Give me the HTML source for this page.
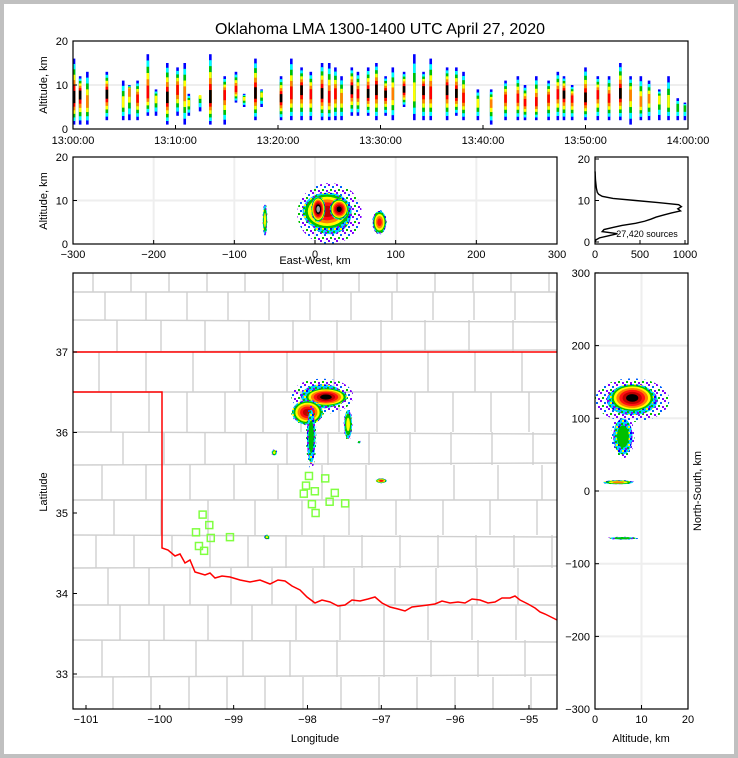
<!DOCTYPE html>
<html><head><meta charset="utf-8"><style>
body{margin:0;background:#c0c0c0;}
svg{display:block;font-family:"Liberation Sans","DejaVu Sans",sans-serif;}
</style></head><body>
<svg id="s" width="738" height="758" xmlns="http://www.w3.org/2000/svg">
<defs>
<pattern id="speck" width="8" height="8" patternUnits="userSpaceOnUse">
<rect x="0" y="0" width="2" height="2" fill="#8000ff"/>
<rect x="4" y="2" width="2" height="2" fill="#0060ff"/>
<rect x="2" y="5" width="2" height="2" fill="#00c000"/>
<rect x="6" y="6" width="2" height="2" fill="#8000ff"/>
</pattern>
<pattern id="speck2" width="6" height="6" patternUnits="userSpaceOnUse">
<rect x="0" y="0" width="6" height="6" fill="#00d0ff"/>
<rect x="0" y="0" width="2" height="2" fill="#0000ff"/>
<rect x="3" y="3" width="2" height="2" fill="#00c000"/>
<rect x="4" y="0" width="2" height="2" fill="#ffff00"/>
<rect x="1" y="4" width="2" height="2" fill="#8000ff"/>
</pattern>
</defs>
<rect x="0" y="0" width="738" height="758" fill="#c0c0c0"/>
<rect x="4" y="4" width="730" height="750" fill="#fff"/>
<text x="380" y="34" font-size="16" text-anchor="middle">Oklahoma LMA 1300-1400 UTC April 27, 2020</text>
<g id="g"></g>
</svg>
<script>
// ---- data ----
const colTimes=[0.1,0.7,1.4,3.3,4.9,5.5,6.3,7.3,8.1,9.2,10.2,10.9,11.3,12.4,13.4,14.8,15.9,16.7,17.8,18.4,20.3,21.3,22.3,23.2,24.3,25.0,25.6,26.2,27.2,27.8,28.8,29.6,30.5,31.2,32.3,33.3,34.2,34.9,36.5,37.4,38.1,39.5,40.8,42.2,43.4,44.1,45.2,46.4,47.3,47.9,48.7,50.0,51.2,52.3,53.4,54.4,55.4,56.2,57.2,58.1,59.0,59.7];
const colLow=[1,1,1,2,2,2,2,3,3,1,3,1,3,4,1,1,6,5,2,5,2,2,2,2,2,2,2,2,3,3,3,2,3,2,5,2,2,2,2,3,2,2,1,2,2,2,2,2,2,2,2,2,2,2,2,1,2,2,2,2,2,2];
const colHigh=[16,12,13,13,11,10,11,17,9,15,14,15,8,7,17,12,13,8,16,9,12,16,14,13,15,15,14,12,14,13,14,15,12,14,13,17,13,16,14,14,13,9,9,11,12,10,12,11,13,12,10,14,12,12,15,12,12,11,9,12,7,6];
const colCore=[7,8,6,8,6,9,7,8,7,7,9,8,6,8,7,8,9,7,8,8,7,8,9,8,8,7,8,7,9,8,8,9,8,8,9,8,9,8,9,8,7,6,6,7,7,6,6,7,8,8,7,7,8,7,8,8,6,7,7,6,5,5];
const colPeak=[6,6,4,6,3,4,5,5,3,6,5,4,3,3,6,5,5,3,6,3,6,5,6,5,6,5,5,4,6,5,6,6,6,4,6,3,6,5,6,6,5,3,4,5,5,5,5,5,5,6,5,6,5,5,6,4,4,4,3,3,2,2];

const ewCenter=[18,15,4,30,-62,80];
const ewRad=[40,32,9,12,3,9];
const ewAlt=[7,7.5,8,8,5.5,5];
const ewAltRad=[7,4.5,3,2.5,4,2.8];
const ewPeak=[1,6,8,7,3,5];

const histAlt=[0,0.5,1,1.5,2,2.5,3,3.5,4,4.5,5,5.5,6,6.5,7,7.5,8,8.5,9,9.5,10,10.5,11,11.5,12,13,14,15,16,17];
const histCount=[0,10,50,150,250,80,100,200,300,450,550,620,680,760,850,950,920,960,930,700,450,200,80,40,25,15,10,5,3,1];

const mapLon=[-97.8,-97.75,-98.0,-97.95,-97.45,-98.45,-97.0,-98.55,-97.3];
const mapLat=[36.45,36.44,36.25,35.95,36.1,35.75,35.4,34.7,35.88];
const mapRLon=[0.42,0.3,0.22,0.07,0.06,0.04,0.08,0.04,0.02];
const mapRLat=[0.22,0.12,0.16,0.4,0.2,0.04,0.03,0.03,0.02];
const mapPeak=[1,7,6,2,3,3,5,3,2];

const staLon=[-97.98,-97.76,-98.02,-97.90,-98.05,-97.63,-97.70,-97.49,-97.94,-97.89,-99.42,-99.33,-99.51,-99.31,-99.05,-99.47,-99.40];
const staLat=[35.46,35.43,35.34,35.27,35.24,35.25,35.14,35.12,35.11,35.00,34.98,34.85,34.76,34.69,34.70,34.59,34.53];

const nsAlt=[8,8,6,5,6];
const nsAltRad=[8,5,2.5,3.5,3.5];
const nsCenter=[125,128,75,12,-65];
const nsRad=[30,20,30,3,2];
const nsPeak=[1,7,2,4,2];

const topYTicks=[0,10,20];
const topXTicks=[0,10,20,30,40,50,60];
const topXLabels=["13:00:00","13:10:00","13:20:00","13:30:00","13:40:00","13:50:00","14:00:00"];
const ewTicks=[-300,-200,-100,0,100,200,300];
const altTicks=[0,10,20];
const histXTicks=[0,500,1000];
const lonTicks=[-101,-100,-99,-98,-97,-96,-95];
const latTicks=[33,34,35,36,37];
const nsTicks=[-300,-200,-100,0,100,200,300];

// ---- scales ----
const tx=m=>73+m*10.25, ty=a=>129-a*4.4;
const mx=e=>315+e*0.8067, my=a=>244-a*4.35;
const hx=c=>595+c*0.09, hy=a=>242-a*4.15;
const lx=lon=>73+(lon+101.176)*73.83, ly=lat=>352+(37-lat)*80.5;
const rx=a=>595+a*4.65, ry=n=>491-n*0.727;

const NS="http://www.w3.org/2000/svg";
const G=document.getElementById('g');
function el(tag,attrs,parent){const e=document.createElementNS(NS,tag);for(const k in attrs)e.setAttribute(k,attrs[k]);(parent||G).appendChild(e);return e;}
function txt(x,y,s,anchor,size,parent,rot){const t=el('text',{x:x,y:y,'font-size':size||11,'text-anchor':anchor||'middle'},parent);if(rot)t.setAttribute('transform','rotate(-90 '+x+' '+y+')');t.textContent=s;return t;}
const colsTop=['#0000ff','#00ffff','#00c000','#ffff00','#ff8000','#ff0000','#000000'];
const colsBlob=['url(#speck)','url(#speck2)','#00c000','#ffff00','#ff8000','#ff1010','#c00000','#000000','#a0a0a0'];
const shrink=(l,p)=>1-0.9*Math.pow(l/(p+1),1.5);
const shrinkTop=(l,p)=>1-0.95*(l/(p+1));

// ---- top panel ----
const gTop=el('g',{});


el('line',{x1:73,x2:688,y1:ty(10),y2:ty(10),stroke:'#eee','stroke-width':2},gTop);
colTimes.forEach((m,i)=>{
  const c=el('g',{},gTop);
  
  
  for(let l=0;l<=colPeak[i];l++){
    const f=shrinkTop(l,colPeak[i]);
    const lo=colCore[i]-(colCore[i]-colLow[i])*f, hi=colCore[i]+(colHigh[i]-colCore[i])*f;
    el('rect',{x:tx(m)-1.3,y:ty(hi),width:2.6,height:ty(lo)-ty(hi),fill:colsTop[l]},c);
  }
});
el('rect',{x:73,y:41,width:615,height:88,fill:'none',stroke:'#000','stroke-width':1.2},gTop);
topYTicks.forEach(v=>{txt(68,ty(v)+4,v,'end',11,gTop);el('line',{x1:73,x2:77,y1:ty(v),y2:ty(v),stroke:'#000'},gTop);});
topXTicks.forEach((v,i)=>{txt(tx(v),144,topXLabels[i],'middle',11,gTop);el('line',{x1:tx(v),x2:tx(v),y1:129,y2:125,stroke:'#000'},gTop);});
txt(47,85,'Altitude, km','middle',11,gTop,true);

// ---- blob helper ----
function blob(parent,cx,cy,rxp,ryp,peak,name){
  const b=el('g',{},parent);
  
  
  for(let l=0;l<=peak;l++){
    const f=shrink(l,peak);
    el('ellipse',{cx:cx,cy:cy,rx:Math.max(1,rxp*f),ry:Math.max(1,ryp*f),fill:colsBlob[l]},b);
  }
}

// ---- east-west panel ----
const gEW=el('g',{});


ewTicks.slice(1,-1).forEach(v=>el('line',{x1:mx(v),x2:mx(v),y1:157,y2:244,stroke:'#eee','stroke-width':2},gEW));
el('line',{x1:73,x2:557,y1:my(10),y2:my(10),stroke:'#eee','stroke-width':2},gEW);
ewCenter.forEach((e,i)=>blob(gEW,mx(e),my(ewAlt[i]),ewRad[i]*0.8067,ewAltRad[i]*4.35,ewPeak[i],'ew-source-cluster'));
el('rect',{x:73,y:157,width:484,height:87,fill:'none',stroke:'#000','stroke-width':1.2},gEW);
altTicks.forEach(v=>{txt(68,my(v)+4,v,'end',11,gEW);el('line',{x1:73,x2:77,y1:my(v),y2:my(v),stroke:'#000'},gEW);});
ewTicks.forEach(v=>{txt(mx(v),258,v<0?'\u2212'+(-v):v,'middle',11,gEW);el('line',{x1:mx(v),x2:mx(v),y1:244,y2:240,stroke:'#000'},gEW);});
txt(47,201,'Altitude, km','middle',11,gEW,true);
txt(315,264,'East-West, km','middle',11,gEW);

// ---- histogram ----
const gH=el('g',{});


const hp=el('polyline',{points:histAlt.map((a,i)=>hx(histCount[i])+','+hy(a)).join(' '),fill:'none',stroke:'#000','stroke-width':1.4},gH);


el('rect',{x:595,y:157,width:93,height:87,fill:'none',stroke:'#000','stroke-width':1.2},gH);
altTicks.forEach(v=>{txt(590,hy(v)+4,v,'end',11,gH);el('line',{x1:595,x2:599,y1:hy(v),y2:hy(v),stroke:'#000'},gH);});
histXTicks.forEach(v=>{txt(hx(v),258,v,'middle',11,gH);el('line',{x1:hx(v),x2:hx(v),y1:244,y2:240,stroke:'#000'},gH);});
txt(647,237,'27,420 sources','middle',9,gH);

// ---- map ----
const gM=el('g',{});


const cl=el('g',{stroke:'#cfcfcf','stroke-width':1.4,fill:'none'},gM);


const rows=[273,292,320,352,392,432,465,500,535,568,605,640,677,709];
const offs=[0,12,24,6,18,30,9,21,3,15,27,9,20];
for(let r=0;r<rows.length-1;r++){
  if(r>0) el('line',{x1:73,x2:557,y1:rows[r],y2:rows[r]+(r%3-1)*2},cl);
  for(let x=73+offs[r]+20;x<557;x+=38+(r%4)*3) el('line',{x1:x,x2:x,y1:rows[r],y2:rows[r+1]},cl);
}
const b1=el('polyline',{points:'73,352 557,352',fill:'none',stroke:'#ff0000','stroke-width':1.5},gM);

const b2=el('polyline',{points:'73,392 162,392 162,548 168,550 175,556 180,554 185,563 190,560 195,572 205,575 210,573 215,578 222,576 230,577 240,580 250,582 260,580 270,584 278,580 285,581 292,586 300,590 307,597 315,603 322,600 330,602 338,606 345,605 352,600 360,601 368,599 375,597 382,603 390,607 398,609 405,611 412,607 420,606 428,605 435,604 442,601 450,603 458,602 465,603 472,599 480,600 488,603 495,602 502,598 510,598 515,596 520,600 528,604 535,608 540,612 545,614 551,617 557,620',fill:'none',stroke:'#ff0000','stroke-width':1.5},gM);

mapLon.forEach((lon,i)=>blob(gM,lx(lon),ly(mapLat[i]),mapRLon[i]*73.83,mapRLat[i]*80.5,mapPeak[i],'map-source-cluster'));
staLon.forEach((lon,i)=>{const s=el('rect',{x:lx(lon)-3.5,y:ly(staLat[i])-3.5,width:7,height:7,fill:'none',stroke:'#80ff40','stroke-width':1.5},gM);
  });
el('rect',{x:73,y:273,width:484,height:436,fill:'none',stroke:'#000','stroke-width':1.2},gM);
latTicks.forEach(v=>{txt(68,ly(v)+4,v,'end',11,gM);el('line',{x1:73,x2:77,y1:ly(v),y2:ly(v),stroke:'#000'},gM);});
lonTicks.forEach(v=>{txt(lx(v),723,'\u2212'+(-v),'middle',11,gM);el('line',{x1:lx(v),x2:lx(v),y1:709,y2:705,stroke:'#000'},gM);});
txt(315,742,'Longitude','middle',11,gM);
txt(47,492,'Latitude','middle',11,gM,true);

// ---- north-south panel ----
const gN=el('g',{});


el('line',{x1:rx(10),x2:rx(10),y1:273,y2:709,stroke:'#eee','stroke-width':2},gN);
nsTicks.slice(1,-1).forEach(v=>el('line',{x1:595,x2:688,y1:ry(v),y2:ry(v),stroke:'#eee','stroke-width':2},gN));
nsCenter.forEach((n,i)=>blob(gN,rx(nsAlt[i]),ry(n),nsAltRad[i]*4.65,nsRad[i]*0.727,nsPeak[i],'ns-source-cluster'));
el('rect',{x:595,y:273,width:93,height:436,fill:'none',stroke:'#000','stroke-width':1.2},gN);
nsTicks.forEach(v=>{txt(590,ry(v)+4,v<0?'\u2212'+(-v):v,'end',11,gN);el('line',{x1:595,x2:599,y1:ry(v),y2:ry(v),stroke:'#000'},gN);});
altTicks.forEach(v=>{txt(rx(v),723,v,'middle',11,gN);el('line',{x1:rx(v),x2:rx(v),y1:709,y2:705,stroke:'#000'},gN);});
txt(641,742,'Altitude, km','middle',11,gN);
txt(701,491,'North-South, km','middle',11,gN,true);
</script>
</body></html>
